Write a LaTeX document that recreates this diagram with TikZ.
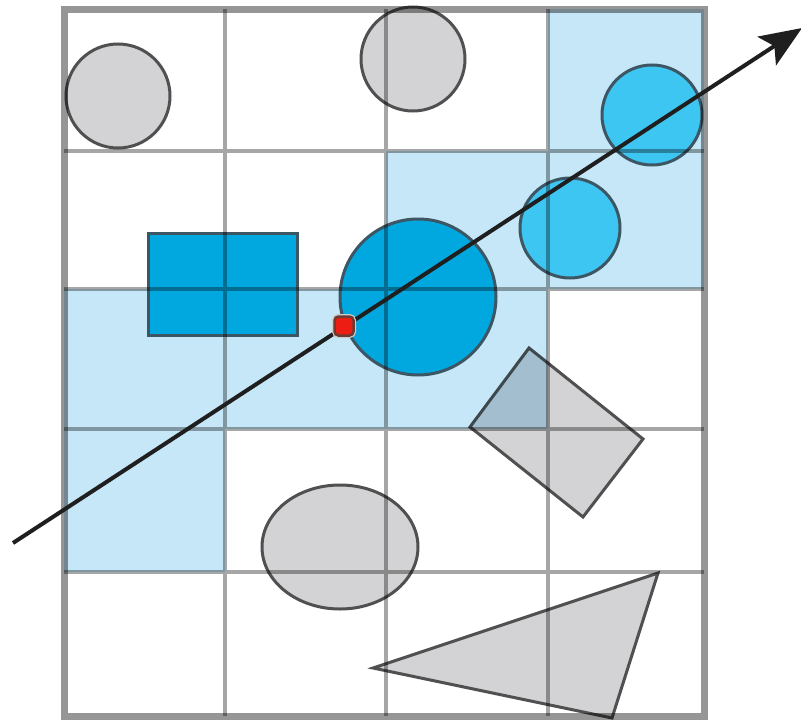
\documentclass[tikz,border=0pt]{standalone}
\usetikzlibrary{arrows.meta}
\definecolor{shapegray}{HTML}{D3D3D5}
\definecolor{edgegray}{HTML}{505050}
\definecolor{cellblue}{HTML}{C6E7F8}
\definecolor{deepblue}{HTML}{00A8DF}
\definecolor{midblue}{HTML}{3EC6F2}
\definecolor{edgeblue}{HTML}{3C5664}
\definecolor{gridgray}{HTML}{A6A6A6}
\definecolor{framegray}{HTML}{969696}
\definecolor{dotred}{HTML}{EC1E14}
\definecolor{dotedge}{HTML}{6E3A34}
\tikzset{
  grayshape/.style={fill=shapegray, draw=edgegray, line width=3pt},
  blueshape/.style={fill=deepblue, draw=edgeblue, line width=3pt},
  lightblueshape/.style={fill=midblue, draw=edgeblue, line width=3pt},
  cell/.style={fill=cellblue},
  gridline/.style={draw=gridgray, line width=4pt},
  frameline/.style={draw=framegray, line width=7pt},
  ray/.style={draw=black!88, line width=4pt, -{Stealth[length=42pt,width=34pt,inset=9pt]}},
  origindot/.style={rectangle, rounded corners=4pt, fill=dotred, draw=dotedge, line width=2.5pt, minimum size=19pt, inner sep=0pt},
}
\begin{document}
\begin{tikzpicture}[x=1pt,y=-1pt]
\useasboundingbox (0,0) rectangle (801,720);
\fill[white] (0,0) rectangle (801,720);
% gray shapes
\draw[grayshape] (118,96) circle (52);
\draw[grayshape] (413,59) circle (52);
\draw[grayshape] (340,547) ellipse (78 and 62);
\draw[grayshape] (470,427) -- (529,348) -- (643,439) -- (583,517) -- cycle;
\draw[grayshape] (373,668) -- (658,573) -- (612,718) -- cycle;
% traversed cells
\begin{scope}[blend mode=multiply]
\fill[cell] (548,9) rectangle (704,151);
\fill[cell] (386,151) rectangle (704,289);
\fill[cell] (64,289) rectangle (548,429);
\fill[cell] (64,429) rectangle (225,572);
\end{scope}
% blue shapes
\draw[blueshape] (148,233) rectangle (297,335);
\draw[blueshape] (418,297) circle (78);
\draw[lightblueshape] (570,228) circle (50);
\draw[lightblueshape] (652,115) circle (50);
% grid
\begin{scope}[blend mode=multiply]
\path[gridline] (225,9) -- (225,716) (386,9) -- (386,716) (548,9) -- (548,716)
  (64,151) -- (704,151) (64,289) -- (704,289) (64,429) -- (704,429) (64,572) -- (704,572);
\path[frameline] (64,9) rectangle (704,716);
\end{scope}
% ray
\coordinate (raystart) at (13,543);
\coordinate (rayend) at (802,28);
\draw[ray] (raystart) -- (rayend);
\node[origindot, draw=white!60!gray, line width=5pt] (halo) at (344,326) {};
\node[origindot] (origin) at (344,326) {};
\end{tikzpicture}
\end{document}
